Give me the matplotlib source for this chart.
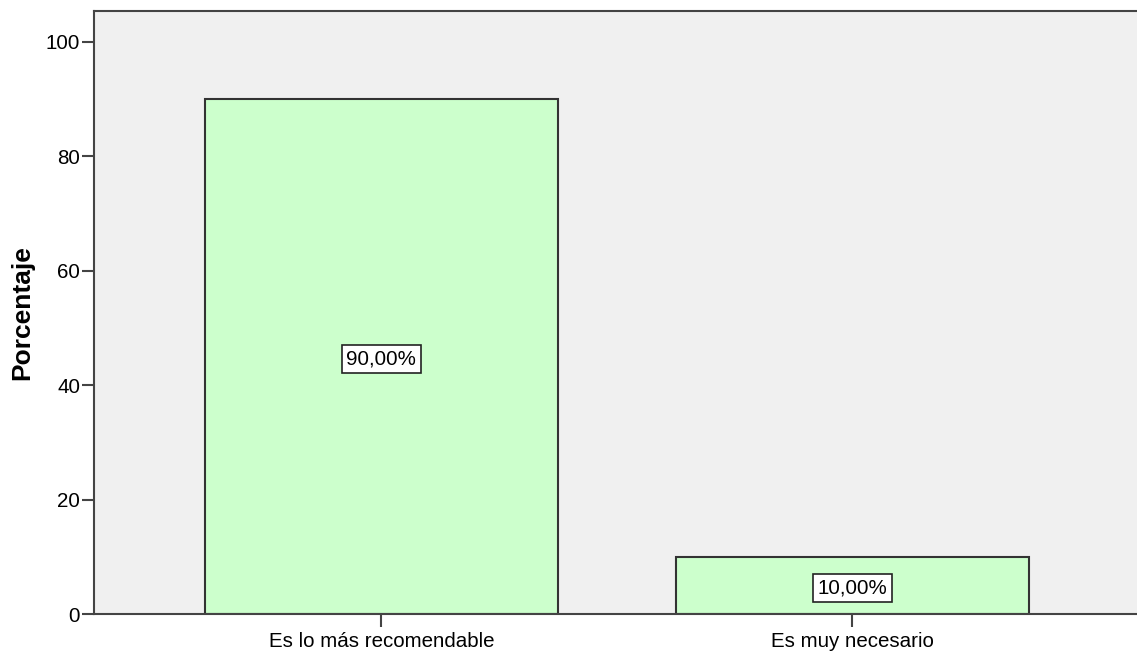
import matplotlib.pyplot as plt
import numpy as np

# data
categorias = ['Es lo más recomendable', 'Es muy necesario']
porcentajes = [90.0, 10.0]
etiquetas = ['90,00%', '10,00%']
yticks = [0, 20, 40, 60, 80, 100]

plt.rcParams['font.family'] = ['Liberation Sans', 'DejaVu Sans']

fig = plt.figure(figsize=(11.37, 6.53), dpi=100)
left = 94 / 1137
ax = fig.add_axes([left, 39 / 653, 1.0 - left, (614 - 11) / 653])
ax.set_facecolor('#f0f0f0')

x = np.arange(len(categorias))
ax.bar(x, porcentajes, width=0.75, color='#ccffcc', edgecolor='#333333', linewidth=1.5, zorder=2)

# value labels inside the bars
for xi, v, t in zip(x, porcentajes, etiquetas):
    ax.text(xi, v / 2 - 0.5, t, ha='center', va='center', fontsize=14.8, zorder=3,
            bbox=dict(boxstyle='square,pad=0.22', facecolor='white', edgecolor='#222222', linewidth=1.2))

ax.set_xlim(-0.61, 1.604)
ax.set_ylim(0, 105.4)
ax.set_xticks(x)
ax.set_xticklabels(categorias, fontsize=14.8)
ax.set_yticks(yticks)
ax.set_yticklabels([str(t) for t in yticks], fontsize=14.8)
ax.set_ylabel('Porcentaje', fontsize=19, fontweight='bold', labelpad=8)

for s in ['left', 'bottom', 'top']:
    ax.spines[s].set_color('#444444')
    ax.spines[s].set_linewidth(1.5)
ax.spines['right'].set_visible(False)
ax.tick_params(axis='y', length=9, width=1.5, color='#444444', pad=1)
ax.tick_params(axis='x', length=9, width=1.5, color='#444444', pad=4)

fig.savefig('out.png', dpi=100)
